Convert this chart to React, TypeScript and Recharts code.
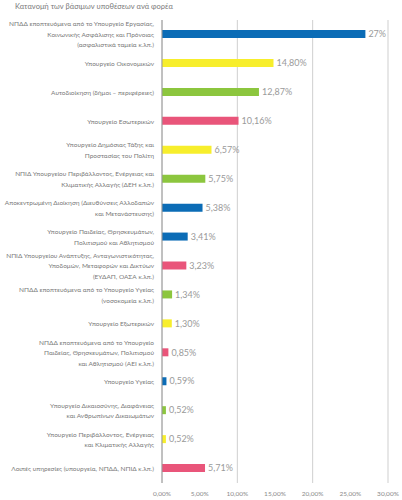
import { BarChart, Bar, XAxis, YAxis, CartesianGrid, Cell, LabelList } from "recharts";

const agencies = [
  "ΝΠΔΔ εποπτευόμενα από το Υπουργείο Εργασίας,\nΚοινωνικής Ασφάλισης και Πρόνοιας\n(ασφαλιστικά ταμεία κ.λπ.)",
  "Υπουργείο Οικονομικών",
  "Αυτοδιοίκηση (δήμοι – περιφέρειες)",
  "Υπουργείο Εσωτερικών",
  "Υπουργείο Δημόσιας Τάξης και\nΠροστασίας του Πολίτη",
  "ΝΠΙΔ Υπουργείου Περιβάλλοντος, Ενέργειας και\nΚλιματικής Αλλαγής (ΔΕΗ κ.λπ.)",
  "Αποκεντρωμένη Διοίκηση (Διευθύνσεις Αλλοδαπών\nκαι Μετανάστευσης)",
  "Υπουργείο Παιδείας, Θρησκευμάτων,\nΠολιτισμού και Αθλητισμού",
  "ΝΠΙΔ Υπουργείου Ανάπτυξης, Ανταγωνιστικότητας,\nΥποδομών, Μεταφορών και Δικτύων\n(ΕΥΔΑΠ, ΟΑΣΑ κ.λπ.)",
  "ΝΠΔΔ εποπτευόμενα από το Υπουργείο Υγείας\n(νοσοκομεία κ.λπ.)",
  "Υπουργείο Εξωτερικών",
  "ΝΠΔΔ εποπτευόμενα από το Υπουργείο\nΠαιδείας, Θρησκευμάτων, Πολιτισμού\nκαι Αθλητισμού (ΑΕΙ κ.λπ.)",
  "Υπουργείο Υγείας",
  "Υπουργείο Δικαιοσύνης, Διαφάνειας\nκαι Ανθρωπίνων Δικαιωμάτων",
  "Υπουργείο Περιβάλλοντος, Ενέργειας\nκαι Κλιματικής Αλλαγής",
  "Λοιπές υπηρεσίες (υπουργεία, ΝΠΔΔ, ΝΠΙΔ κ.λπ.)",
];

const shares = [27, 14.8, 12.87, 10.16, 6.57, 5.75, 5.38, 3.41, 3.23, 1.34, 1.3, 0.85, 0.59, 0.52, 0.52, 5.71];

const barColors = [
  "#0b6cb6", "#f7ee2c", "#8cc63e", "#e9557a", "#f7ee2c", "#8cc63e", "#0b6cb6", "#0b6cb6",
  "#e9557a", "#8cc63e", "#f7ee2c", "#e9557a", "#0b6cb6", "#8cc63e", "#f7ee2c", "#e9557a",
];

const xTicks = [0, 5, 10, 15, 20, 25, 30];

const data = agencies.map((name, i) => ({ name, share: shares[i] }));

const font = "Lato, sans-serif";
const pct = (v: number) => v.toFixed(2).replace(".", ",") + "%";
const valueLabel = (v: any) => (Number.isInteger(v) ? `${v}%` : pct(v));

function AgencyTick({ x, y, payload }: any) {
  const lines = String(payload.value).split("\n");
  const lh = 10.5;
  return (
    <text x={x} y={y} textAnchor="end" fontSize={6.5} fill="#7a7a7a" fontFamily={font}>
      {lines.map((l, i) => (
        <tspan key={i} x={x} y={y + (i - (lines.length - 1) / 2) * lh} dominantBaseline="central">
          {l}
        </tspan>
      ))}
    </text>
  );
}

export default function App() {
  return (
    <div style={{ position: "absolute", left: 0, top: 0, width: 402, height: 500, background: "#fff" }}>
      <div style={{ position: "absolute", left: 15, top: 2, fontSize: 7.5, color: "#7a7a7a", fontFamily: font }}>
        Κατανομή των βάσιμων υποθέσεων ανά φορέα
      </div>
      <BarChart
        width={402}
        height={500}
        data={data}
        layout="vertical"
        margin={{ top: 20, right: 14, bottom: 0, left: 0 }}
        barCategoryGap={0}
      >
        <CartesianGrid horizontal={false} vertical stroke="#cfcfcf" />
        <XAxis
          type="number"
          domain={[0, 30]}
          ticks={xTicks}
          tickFormatter={pct}
          axisLine={false}
          tickLine={false}
          height={17}
          tick={{ fontSize: 6.5, fill: "#8a8a8a", fontFamily: font }}
        />
        <YAxis
          type="category"
          dataKey="name"
          width={162}
          interval={0}
          tickLine={false}
          axisLine={{ stroke: "#9a9a9a" }}
          tick={<AgencyTick />}
        />
        <Bar dataKey="share" barSize={8} isAnimationActive={false}>
          {data.map((d, i) => (
            <Cell key={d.name} fill={barColors[i]} />
          ))}
          <LabelList
            dataKey="share"
            position="right"
            offset={3}
            formatter={valueLabel}
            style={{ fontSize: 9, fill: "#9a9a9a", fontFamily: font }}
          />
        </Bar>
      </BarChart>
    </div>
  );
}
